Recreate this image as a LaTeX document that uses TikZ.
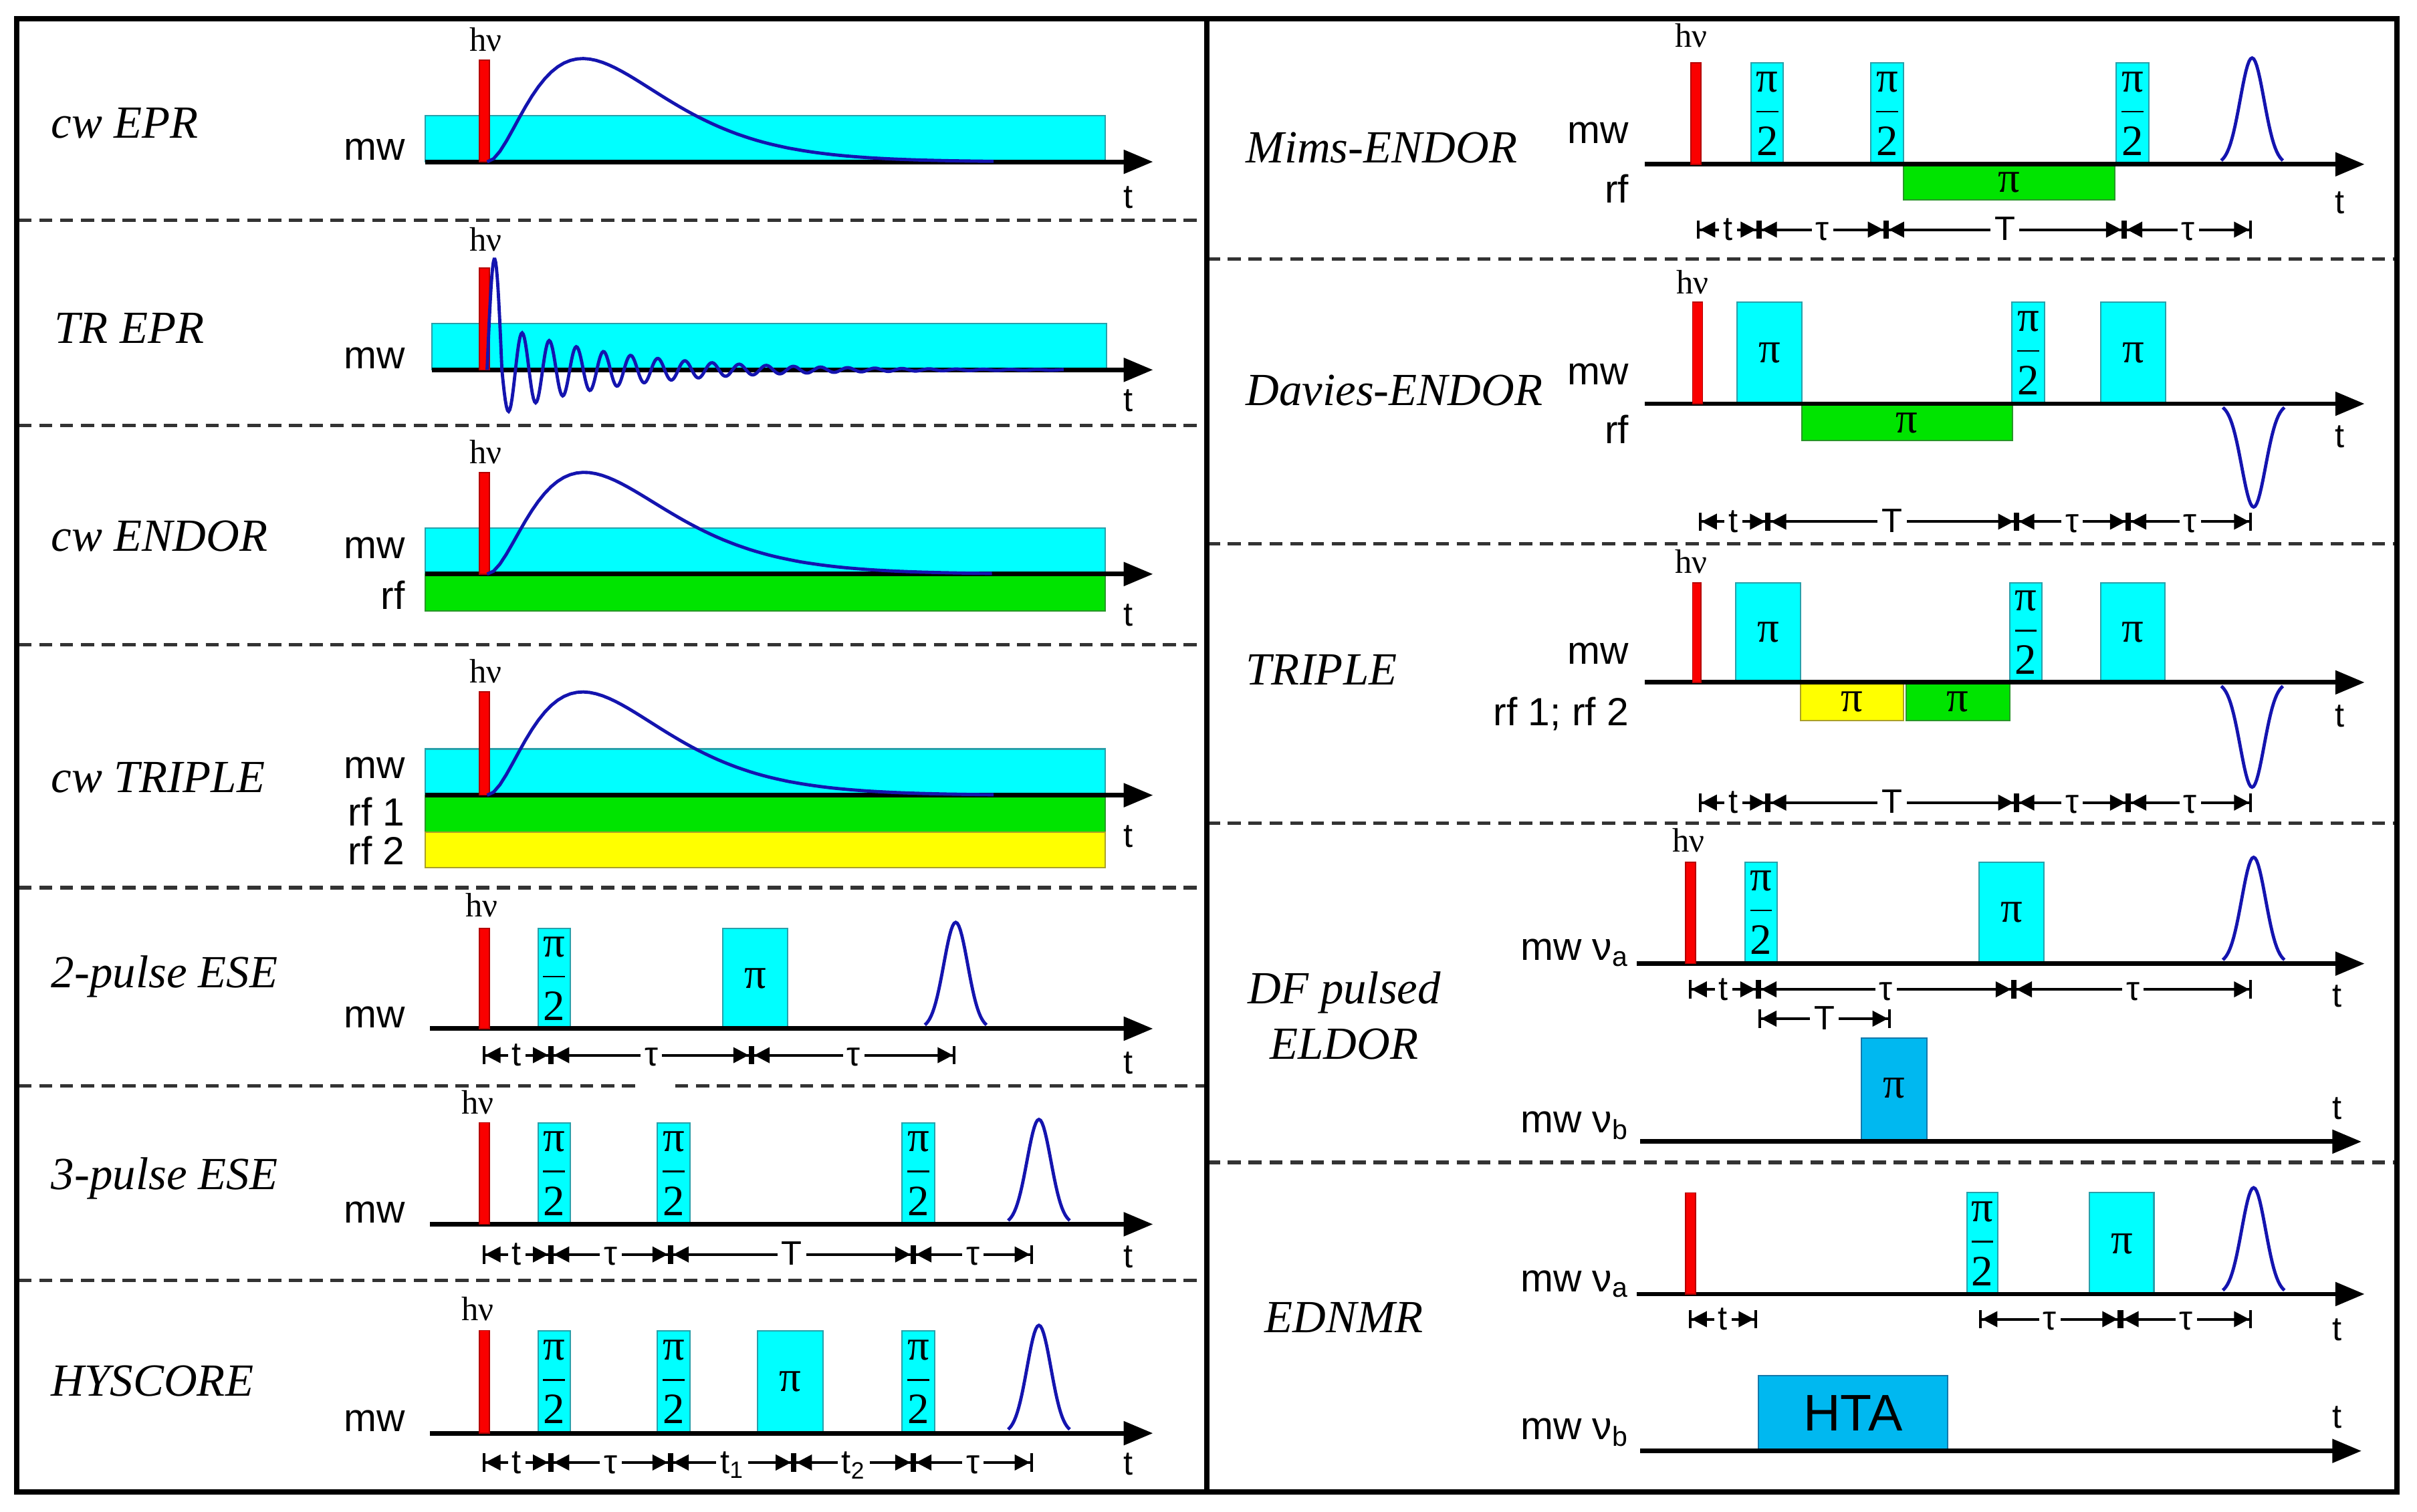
\documentclass[tikz,border=0pt]{standalone}
\usepackage{amsmath}
\usepackage{fontspec}
\setmainfont{Liberation Serif}
\setsansfont{Liberation Sans}
\usepackage{tikz}
\usetikzlibrary{arrows.meta}
\definecolor{mwcyan}{RGB}{0,255,255}
\definecolor{mwedge}{RGB}{40,160,170}
\definecolor{rfgreen}{RGB}{0,228,0}
\definecolor{rfedge}{RGB}{40,150,40}
\definecolor{rfyellow}{RGB}{255,255,0}
\definecolor{rfyedge}{RGB}{170,160,40}
\definecolor{pumpblue}{RGB}{0,184,240}
\definecolor{pumpedge}{RGB}{20,120,170}
\definecolor{laserred}{RGB}{250,0,0}
\definecolor{laseredge}{RGB}{180,0,0}
\definecolor{echoblue}{RGB}{20,20,175}

\newcommand{\halfpi}{$\dfrac{\mbox{π}}{\mbox{2}}$}

\begin{document}
\begin{tikzpicture}[x=0.02cm, y=-0.02cm,
    axis/.style={line width=1.7pt, -{Triangle[length=0.38cm,width=0.3cm]}},
    mwpulse/.style={fill=mwcyan, draw=mwedge, line width=0.5pt},
    rfpulse/.style={fill=rfgreen, draw=rfedge, line width=0.5pt},
    rftwo/.style={fill=rfyellow, draw=rfyedge, line width=0.5pt},
    pump/.style={fill=pumpblue, draw=pumpedge, line width=0.5pt},
    laser/.style={fill=laserred, draw=laseredge, line width=0.4pt},
    signal/.style={echoblue, line width=1.2pt},
    rowsep/.style={black!80, line width=1.3pt, dash pattern=on 0.17cm off 0.1cm},
    seqname/.style={font=\itshape\fontsize{17}{20.5}\selectfont, inner sep=0pt},
    chan/.style={font=\sffamily\fontsize{14.5}{16}\selectfont, inner sep=0pt, anchor=base east},
    hvlabel/.style={font=\fontsize{12.5}{14}\selectfont, inner sep=0pt, anchor=base},
    tlabel/.style={font=\sffamily\fontsize{12.5}{14}\selectfont, inner sep=0pt, anchor=base},
    plabel/.style={font=\fontsize{16}{18}\selectfont, inner sep=0pt},
    span/.style={line width=1pt,
      arrows={Bar[width=0.24cm]Triangle[length=0.2cm,width=0.2cm]}-{Triangle[length=0.2cm,width=0.2cm]Bar[width=0.24cm]}},
    spanlabel/.style={font=\sffamily\fontsize{12.5}{14}\selectfont, fill=white,
      inner xsep=1.5pt, inner ysep=0pt, text height=8pt, text depth=0pt}]

  \useasboundingbox (0,0) rectangle (1568,981);

  % Row separators
  \foreach \ry in {143, 276, 418.3, 576, 830.8}
    \draw[rowsep] (12,\ry) -- (783,\ry);
  \draw[rowsep] (12,704.6) -- (415,704.6) (438,704.6) -- (783,704.6);
  \foreach \ry in {168, 352.8, 534.2, 754.3}
    \draw[rowsep] (783,\ry) -- (1555,\ry);

  % ---------- cw EPR ----------
  \node[seqname, anchor=base west] (cwepr) at (33,89.5) {cw EPR};
  \filldraw[mwpulse] (276,75) rectangle (717,105);
  \draw[axis] (276,105) -- (748,105);
  \filldraw[laser] (311,39) rectangle (317.5,105);
  \node[hvlabel] (hv1) at (315,33) {hν};
  \draw[signal] plot[domain=0:5.3, samples=80] ({316+62*\x}, {105-67*\x*\x*exp(2*(1-\x))});
  \node[chan] (mw1) at (263,104) {mw};
  \node[tlabel] (t1) at (732,135) {t};

  % ---------- TR EPR ----------
  \node[seqname, anchor=base west] (trepr) at (35,222.7) {TR EPR};
  \filldraw[mwpulse] (280,210) rectangle (718,240);
  \draw[axis] (280,240) -- (748,240);
  \filldraw[laser] (311,174) rectangle (317.5,240);
  \node[hvlabel] (hv2) at (315,163) {hν};
  \draw[signal] plot[domain=316:325.6, samples=20] (\x, {240-72*sin(18.75*(\x-316))})
    -- plot[domain=-4.4:360, samples=500] ({330+\x}, {240+27*exp(-(\x)/75)*cos(20.4545*(\x))});
  \node[chan] (mw2) at (263,239) {mw};
  \node[tlabel] (t2) at (732,267) {t};

  % ---------- cw ENDOR ----------
  \node[seqname, anchor=base west] (cwendor) at (33,357.5) {cw ENDOR};
  \filldraw[mwpulse] (276,342.6) rectangle (717,372.5);
  \filldraw[rfpulse] (276,372.5) rectangle (717,396.4);
  \draw[axis] (276,372.5) -- (748,372.5);
  \filldraw[laser] (311,306.7) rectangle (317.5,372.5);
  \node[hvlabel] (hv3) at (315,300.8) {hν};
  \draw[signal] plot[domain=0:5.2, samples=80] ({316+63*\x}, {372.5-66*\x*\x*exp(2*(1-\x))});
  \node[chan] (mw3) at (263,362.5) {mw};
  \node[chan] (rf3) at (263,395.4) {rf};
  \node[tlabel] (t3) at (732,406) {t};

  % ---------- cw TRIPLE ----------
  \node[seqname, anchor=base west] (cwtriple) at (33,514) {cw TRIPLE};
  \filldraw[mwpulse] (276,486) rectangle (717,516);
  \filldraw[rfpulse] (276,516) rectangle (717,540);
  \filldraw[rftwo] (276,540) rectangle (717,563);
  \draw[axis] (276,516) -- (748,516);
  \filldraw[laser] (311,449) rectangle (317.5,516);
  \node[hvlabel] (hv4) at (315,443) {hν};
  \draw[signal] plot[domain=0:5.3, samples=80] ({316+62*\x}, {516-67*\x*\x*exp(2*(1-\x))});
  \node[chan] (mw4) at (263,505) {mw};
  \node[chan] (rf4a) at (263,536) {rf 1};
  \node[chan] (rf4b) at (263,561) {rf 2};
  \node[tlabel] (t4) at (732,549.7) {t};

  % ---------- 2-pulse ESE ----------
  \node[seqname, anchor=base west] (ese2) at (33,641) {2-pulse ESE};
  \foreach \a/\b/\p [count=\i] in {349/370/\halfpi, 469/511/π} {
    \filldraw[mwpulse] (\a,602.4) rectangle (\b,667.5);
    \node[plabel] (ese2p\i) at ({(\a+\b)/2},635) {\p};
  }
  \draw[axis] (279,667.5) -- (748,667.5);
  \filldraw[laser] (311,602.4) rectangle (317.5,667.5);
  \node[hvlabel] (hv5) at (312.5,595) {hν};
  \draw[signal] plot[domain=-20:20, samples=41] ({620+\x}, {667.5-69*exp(-(\x)*(\x)/120)});
  \node[chan] (mw5) at (263,667) {mw};
  \node[tlabel] (t5) at (732,696.7) {t};
  \foreach \a/\b/\l [count=\i] in {313/357.5/t, 357.5/487.5/τ, 487.5/620/τ}
    \draw[span] (\a,684.7) -- (\b,684.7) node[spanlabel, midway] (ese2s\i) {\l};

  % ---------- 3-pulse ESE ----------
  \node[seqname, anchor=base west] (ese3) at (33,772) {3-pulse ESE};
  \foreach \a/\b [count=\i] in {349/370, 426.5/447.5, 585/606.5} {
    \filldraw[mwpulse] (\a,728.5) rectangle (\b,794.4);
    \node[plabel] (ese3p\i) at ({(\a+\b)/2},761.5) {\halfpi};
  }
  \draw[axis] (279,794.4) -- (748,794.4);
  \filldraw[laser] (311,728.5) rectangle (317.5,794.4);
  \node[hvlabel] (hv6) at (310,723) {hν};
  \draw[signal] plot[domain=-20:20, samples=41] ({674+\x}, {794.4-68*exp(-(\x)*(\x)/120)});
  \node[chan] (mw6) at (263,793.5) {mw};
  \node[tlabel] (t6) at (732,822.8) {t};
  \foreach \a/\b/\l [count=\i] in {313/357.5/t, 357.5/435/τ, 435/592.5/T, 592.5/670/τ}
    \draw[span] (\a,814) -- (\b,814) node[spanlabel, midway] (ese3s\i) {\l};

  % ---------- HYSCORE ----------
  \node[seqname, anchor=base west] (hyscore) at (33,906) {HYSCORE};
  \foreach \a/\b/\p [count=\i] in {349/370/\halfpi, 426.5/447.5/\halfpi, 491.5/534/π, 585/606.5/\halfpi} {
    \filldraw[mwpulse] (\a,863.4) rectangle (\b,930);
    \node[plabel] (hysp\i) at ({(\a+\b)/2},896.7) {\p};
  }
  \draw[axis] (279,930) -- (748,930);
  \filldraw[laser] (311,863.4) rectangle (317.5,930);
  \node[hvlabel] (hv7) at (310,857) {hν};
  \draw[signal] plot[domain=-20:20, samples=41] ({674+\x}, {930-70*exp(-(\x)*(\x)/120)});
  \node[chan] (mw7) at (263,929) {mw};
  \node[tlabel] (t7) at (732,957) {t};
  \foreach \a/\b/\l [count=\i] in {313/357.5/t, 357.5/435/τ, 435/515/t\textsubscript{1}, 515/592.5/t\textsubscript{2}, 592.5/670/τ}
    \draw[span] (\a,949) -- (\b,949) node[spanlabel, midway] (hyss\i) {\l};

  % ---------- Mims-ENDOR ----------
  \node[seqname, anchor=base west] (mims) at (808,105.5) {Mims-ENDOR};
  \foreach \a/\b [count=\i] in {1136/1157, 1213.5/1235, 1373/1394} {
    \filldraw[mwpulse] (\a,40.8) rectangle (\b,106.6);
    \node[plabel] (mimsp\i) at ({(\a+\b)/2},73.7) {\halfpi};
  }
  \filldraw[rfpulse] (1235,106.6) rectangle (1372,129.8);
  \node[plabel] (mimsrf) at (1303.5,118.5) {π};
  \draw[axis] (1067,106.6) -- (1534,106.6);
  \filldraw[laser] (1097,40.8) rectangle (1103.5,106.6);
  \node[hvlabel] (hv8) at (1097,30.6) {hν};
  \draw[signal] plot[domain=-20:20, samples=41] ({1461+\x}, {106.6-69*exp(-(\x)*(\x)/120)});
  \node[chan] (mw8) at (1057,93) {mw};
  \node[chan] (rf8) at (1057,131.6) {rf};
  \node[tlabel] (t8) at (1518,138.4) {t};
  \foreach \a/\b/\l [count=\i] in {1101/1141/t, 1141/1223.5/τ, 1223.5/1378/T, 1378/1461/τ}
    \draw[span] (\a,149) -- (\b,149) node[spanlabel, midway] (mimss\i) {\l};

  % ---------- Davies-ENDOR ----------
  \node[seqname, anchor=base west] (davies) at (808,263) {Davies-ENDOR};
  \foreach \a/\b/\p [count=\i] in {1127/1169/π, 1305/1326.5/\halfpi, 1363/1405/π} {
    \filldraw[mwpulse] (\a,196) rectangle (\b,262);
    \node[plabel] (daviesp\i) at ({(\a+\b)/2},229) {\p};
  }
  \filldraw[rfpulse] (1169,262) rectangle (1305.4,285.8);
  \node[plabel] (daviesrf) at (1237,274.5) {π};
  \draw[axis] (1067,262) -- (1534,262);
  \filldraw[laser] (1098,196) rectangle (1104.5,262);
  \node[hvlabel] (hv9) at (1098,190.6) {hν};
  \draw[signal] plot[domain=-20:20, samples=41] ({1462+\x}, {262+67*exp(-(\x)*(\x)/120)});
  \node[chan] (mw9) at (1057,249.5) {mw};
  \node[chan] (rf9) at (1057,288) {rf};
  \node[tlabel] (t9) at (1518,290.4) {t};
  \foreach \a/\b/\l [count=\i] in {1102/1147/t, 1147/1308/T, 1308/1380.6/τ, 1380.6/1461/τ}
    \draw[span] (\a,338.5) -- (\b,338.5) node[spanlabel, midway] (daviess\i) {\l};

  % ---------- TRIPLE ----------
  \node[seqname, anchor=base west] (triple) at (808,444.5) {TRIPLE};
  \foreach \a/\b/\p [count=\i] in {1126/1168/π, 1304/1324.5/\halfpi, 1363/1404.3/π} {
    \filldraw[mwpulse] (\a,378.2) rectangle (\b,442.8);
    \node[plabel] (triplep\i) at ({(\a+\b)/2},410.5) {\p};
  }
  \filldraw[rftwo] (1168,442.8) rectangle (1235,467.6);
  \node[plabel] (triplerfb) at (1201.5,455.5) {π};
  \filldraw[rfpulse] (1236.6,442.8) rectangle (1304,467.6);
  \node[plabel] (triplerfa) at (1270,455.5) {π};
  \draw[axis] (1067,442.8) -- (1534,442.8);
  \filldraw[laser] (1098,378.2) rectangle (1103.5,442.8);
  \node[hvlabel] (hv10) at (1097,372) {hν};
  \draw[signal] plot[domain=-20:20, samples=41] ({1461+\x}, {442.8+68*exp(-(\x)*(\x)/120)});
  \node[chan] (mw10) at (1057,430.8) {mw};
  \node[chan] (rf10) at (1057,470.7) {rf 1; rf 2};
  \node[tlabel] (t10) at (1518,471.8) {t};
  \foreach \a/\b/\l [count=\i] in {1102/1147/t, 1147/1308/T, 1308/1380.6/τ, 1380.6/1461/τ}
    \draw[span] (\a,520.8) -- (\b,520.8) node[spanlabel, midway] (triples\i) {\l};

  % ---------- DF pulsed ELDOR ----------
  \node[seqname, align=center] (dfeldor) at (872,659) {DF pulsed\\ELDOR};
  \foreach \a/\b/\p [count=\i] in {1132/1153/\halfpi, 1284/1326/π} {
    \filldraw[mwpulse] (\a,559.4) rectangle (\b,625.3);
    \node[plabel] (dfp\i) at ({(\a+\b)/2},592) {\p};
  }
  \draw[axis] (1062,625.3) -- (1534,625.3);
  \filldraw[laser] (1093.5,559.4) rectangle (1100,625.3);
  \node[hvlabel] (hv11) at (1095.5,552.7) {hν};
  \draw[signal] plot[domain=-20:20, samples=41] ({1462+\x}, {625.3-69*exp(-(\x)*(\x)/120)});
  \node[chan] (mw11a) at (1057,623) {mw ν\textsubscript{a}};
  \node[tlabel] (t11a) at (1516,653.6) {t};
  \foreach \a/\b/\l [count=\i] in {1095.5/1140.7/t, 1140.7/1306.4/τ, 1306.4/1461/τ}
    \draw[span] (\a,642) -- (\b,642) node[spanlabel, midway] (dfs\i) {\l};
  \draw[span] (1140.7,661) -- (1226.5,661) node[spanlabel, midway] (dfsT) {T};
  % pump channel
  \filldraw[pump] (1207.5,673.8) rectangle (1250,740.8);
  \node[plabel] (dfpump) at (1228.7,706) {π};
  \draw[axis] (1064,740.8) -- (1532,740.8);
  \node[chan] (mw11b) at (1057,735) {mw ν\textsubscript{b}};
  \node[tlabel] (t11b) at (1516,726.5) {t};

  % ---------- EDNMR ----------
  \node[seqname, anchor=base] (ednmr) at (872,864.6) {EDNMR};
  \foreach \a/\b/\p [count=\i] in {1276/1296/\halfpi, 1355.6/1397.3/π} {
    \filldraw[mwpulse] (\a,774) rectangle (\b,839.7);
    \node[plabel] (ednmrp\i) at ({(\a+\b)/2},807) {\p};
  }
  \draw[axis] (1062,839.7) -- (1534,839.7);
  \filldraw[laser] (1093.5,774) rectangle (1100,839.7);
  \draw[signal] plot[domain=-20:20, samples=41] ({1462+\x}, {839.7-69*exp(-(\x)*(\x)/120)});
  \node[chan] (mw12a) at (1057,838) {mw ν\textsubscript{a}};
  \node[tlabel] (t12a) at (1516,869.8) {t};
  \foreach \a/\b/\l [count=\i] in {1095.5/1139.7/t, 1284/1375.6/τ, 1375.6/1461/τ}
    \draw[span] (\a,856) -- (\b,856) node[spanlabel, midway] (ednmrs\i) {\l};
  % pump channel
  \filldraw[pump] (1140.7,892.6) rectangle (1263.7,941.5);
  \node[font=\sffamily\fontsize{19}{21}\selectfont, inner sep=0pt] (hta) at (1202,917) {HTA};
  \draw[axis] (1064,941.5) -- (1532,941.5);
  \node[chan] (mw12b) at (1057,934) {mw ν\textsubscript{b}};
  \node[tlabel] (t12b) at (1516,926.7) {t};

  % Frame
  \draw[line width=2pt] (11,12) rectangle (1555,968);
  \draw[line width=2pt] (783,12) -- (783,968);
\end{tikzpicture}
\end{document}
